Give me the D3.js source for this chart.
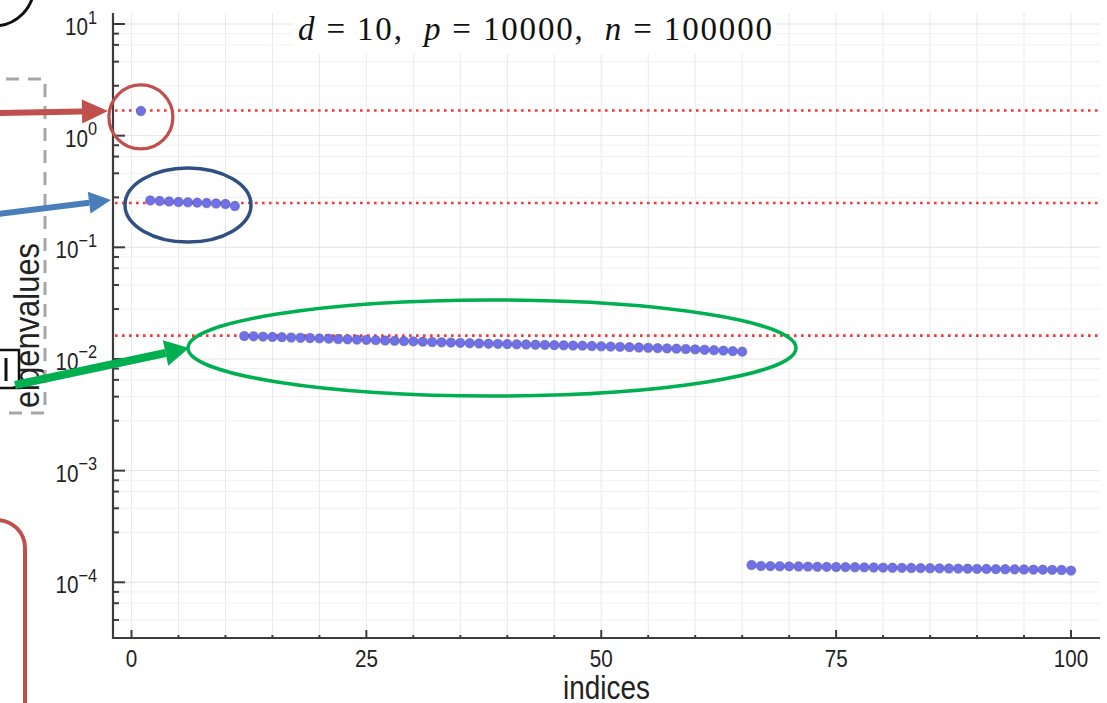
<!DOCTYPE html>
<html>
<head>
<meta charset="utf-8">
<script src="https://cdn.jsdelivr.net/npm/d3@7"></script>
<style>
  body { margin: 0; background: #fff; }
  svg { display: block; }
</style>
</head>
<body>
<div class="svg-container"></div>
<script>
const widthSVG = 1107;
const heightSVG = 703;

// eigenvalues, grouped by the spikes
const topStart = 1;
const topVals = [1.664];
const secondStart = 2;
const secondVals = [0.2629, 0.2602, 0.2575, 0.2548, 0.2532, 0.2512, 0.2496, 0.2471, 0.2445, 0.2347];
const thirdStart = 12;
const thirdVals = [
  0.01607, 0.01597, 0.01587, 0.01577, 0.01568, 0.01558, 0.01548, 0.01539, 0.01529, 0.01520,
  0.01511, 0.01501, 0.01492, 0.01483, 0.01474, 0.01465, 0.01456, 0.01447, 0.01438, 0.01429,
  0.01420, 0.01411, 0.01403, 0.01394, 0.01385, 0.01377, 0.01371, 0.01366, 0.01360, 0.01354,
  0.01349, 0.01343, 0.01338, 0.01332, 0.01327, 0.01321, 0.01316, 0.01308, 0.01300, 0.01292,
  0.01284, 0.01276, 0.01268, 0.01260, 0.01252, 0.01244, 0.01237, 0.01229, 0.01219, 0.01209,
  0.01199, 0.01189, 0.01177, 0.01163
];
const tailStart = 66;
const tailVals = [
  1.429e-4, 1.400e-4, 1.396e-4, 1.393e-4, 1.389e-4, 1.386e-4, 1.382e-4, 1.378e-4, 1.375e-4, 1.371e-4,
  1.368e-4, 1.365e-4, 1.361e-4, 1.358e-4, 1.354e-4, 1.351e-4, 1.347e-4, 1.344e-4, 1.340e-4, 1.337e-4,
  1.334e-4, 1.330e-4, 1.327e-4, 1.324e-4, 1.320e-4, 1.317e-4, 1.313e-4, 1.310e-4, 1.307e-4, 1.303e-4,
  1.300e-4, 1.297e-4, 1.293e-4, 1.290e-4, 1.273e-4
];
// theoretical levels (red dotted)
const refLevels = [1.68, 0.2496, 0.0162];

const xTicks = [0, 25, 50, 75, 100];
const xMinorStep = 5;
const yTicks = [1e1, 1e0, 1e-1, 1e-2, 1e-3, 1e-4];
const yTickExp = ['1', '0', '\u22121', '\u22122', '\u22123', '\u22124'];
const yMinorFactors = [2.8, 4.6, 6.5, 8.2];

const titleText = ['d', ' = 10,  ', 'p', ' = 10000,  ', 'n', ' = 100000'];

const plot = { left: 113, right: 1100, top: 13, bottom: 638 };
const sansFont = "'Liberation Sans', Arial, sans-serif";
const narrow = 0.86; // the reference font is a narrow sans

const svg = d3.select('.svg-container')
  .append('svg')
  .attr('width', widthSVG)
  .attr('height', heightSVG)
  .attr('viewBox', `0 0 ${widthSVG} ${heightSVG}`);

const x = d3.scaleLinear().domain([0, 100]).range([131.5, 1071]);
const y = d3.scaleLog().domain([1e-4, 10]).range([582.3, 24]);

function toPoints(start, vals) {
  return vals.map((v, i) => ({ idx: start + i, val: v }));
}
const points = [].concat(
  toPoints(topStart, topVals),
  toPoints(secondStart, secondVals),
  toPoints(thirdStart, thirdVals),
  toPoints(tailStart, tailVals)
);

// minor y values
const yMinor = [];
[1e-5, 1e-4, 1e-3, 1e-2, 1e-1, 1e0].forEach(dec => {
  yMinorFactors.forEach(f => {
    const v = dec * f;
    if (y(v) >= plot.top && y(v) <= plot.bottom) yMinor.push(v);
  });
});
const xMinor = d3.range(0, 101, xMinorStep);

// grid
const grid = svg.append('g').attr('class', 'grid');
grid.selectAll('line.vgrid')
  .data(xMinor)
  .enter().append('line')
  .attr('x1', d => x(d)).attr('x2', d => x(d))
  .attr('y1', plot.top).attr('y2', plot.bottom)
  .attr('stroke', '#e9e9e9').attr('stroke-width', 1);
grid.selectAll('line.hminor')
  .data(yMinor)
  .enter().append('line')
  .attr('x1', plot.left).attr('x2', plot.right)
  .attr('y1', d => y(d)).attr('y2', d => y(d))
  .attr('stroke', '#f1f1f1').attr('stroke-width', 1);
grid.selectAll('line.hmajor')
  .data(yTicks)
  .enter().append('line')
  .attr('x1', plot.left).attr('x2', plot.right)
  .attr('y1', d => y(d)).attr('y2', d => y(d))
  .attr('stroke', '#e4e4e4').attr('stroke-width', 1);

// reference levels
svg.append('g').selectAll('line')
  .data(refLevels)
  .enter().append('line')
  .attr('x1', plot.left + 2).attr('x2', plot.right)
  .attr('y1', d => y(d)).attr('y2', d => y(d))
  .attr('stroke', '#ff3333')
  .attr('stroke-width', 2.6)
  .attr('stroke-dasharray', '2.6 4.4');

// points
svg.append('g').selectAll('circle')
  .data(points)
  .enter().append('circle')
  .attr('cx', d => x(d.idx))
  .attr('cy', d => y(d.val))
  .attr('r', 4.6)
  .attr('fill', '#7070ea')
  .attr('stroke', '#55559e')
  .attr('stroke-opacity', 0.55)
  .attr('stroke-width', 1.2);

// axes
const axisColor = '#3c3c3c';
svg.append('line')
  .attr('x1', plot.left).attr('x2', plot.left)
  .attr('y1', plot.top).attr('y2', plot.bottom + 1)
  .attr('stroke', axisColor).attr('stroke-width', 2.2);
svg.append('line')
  .attr('x1', plot.left - 1).attr('x2', plot.right)
  .attr('y1', plot.bottom).attr('y2', plot.bottom)
  .attr('stroke', axisColor).attr('stroke-width', 2.2);

svg.append('g').selectAll('line')
  .data(yTicks)
  .enter().append('line')
  .attr('x1', plot.left).attr('x2', plot.left + 12)
  .attr('y1', d => y(d)).attr('y2', d => y(d))
  .attr('stroke', axisColor).attr('stroke-width', 2);
svg.append('g').selectAll('line')
  .data(yMinor)
  .enter().append('line')
  .attr('x1', plot.left).attr('x2', plot.left + 6)
  .attr('y1', d => y(d)).attr('y2', d => y(d))
  .attr('stroke', axisColor).attr('stroke-width', 2);

svg.append('g').selectAll('line')
  .data(xMinor)
  .enter().append('line')
  .attr('x1', d => x(d)).attr('x2', d => x(d))
  .attr('y1', plot.bottom)
  .attr('y2', d => xTicks.includes(d) ? plot.bottom - 8 : plot.bottom - 3)
  .attr('stroke', axisColor).attr('stroke-width', 2);

// tick labels (narrowed)
svg.append('g').selectAll('g')
  .data(xTicks)
  .enter().append('g')
  .attr('transform', d => `translate(${x(d)},667) scale(${narrow},1)`)
  .append('text')
  .attr('text-anchor', 'middle')
  .attr('font-family', sansFont)
  .attr('font-size', 24)
  .attr('fill', '#222')
  .text(d => d);

const yLab = svg.append('g').selectAll('g')
  .data(yTicks)
  .enter().append('g')
  .attr('transform', d => `translate(97,${y(d) + 11}) scale(${narrow},1)`)
  .append('text')
  .attr('text-anchor', 'end')
  .attr('font-family', sansFont)
  .attr('font-size', 24)
  .attr('fill', '#222');
yLab.append('tspan').text('10');
yLab.append('tspan')
  .attr('dy', -11.5)
  .attr('font-size', 19)
  .text((d, i) => yTickExp[i]);

// axis labels
svg.append('g')
  .attr('transform', `translate(${(plot.left + plot.right) / 2},699) scale(0.82,1)`)
  .append('text')
  .attr('text-anchor', 'middle')
  .attr('font-family', sansFont)
  .attr('font-size', 34)
  .attr('fill', '#222')
  .text('indices');

svg.append('g')
  .attr('transform', `translate(39,${(plot.top + plot.bottom) / 2}) rotate(-90) scale(0.86,1)`)
  .append('text')
  .attr('text-anchor', 'middle')
  .attr('font-family', sansFont)
  .attr('font-size', 36)
  .attr('fill', '#222')
  .text('eigenvalues');

// title on white box
svg.append('rect')
  .attr('x', 292).attr('y', 4)
  .attr('width', 484).attr('height', 50)
  .attr('fill', '#fff');
const title = svg.append('text')
  .attr('x', 298)
  .attr('y', 40)
  .attr('font-family', "'Liberation Serif', 'DejaVu Serif', serif")
  .attr('font-size', 33)
  .attr('fill', '#111')
  .attr('textLength', 474)
  .attr('lengthAdjust', 'spacing')
  .attr('xml:space', 'preserve');
titleText.forEach((t, i) => {
  title.append('tspan')
    .attr('font-style', i % 2 === 0 ? 'italic' : 'normal')
    .text(t);
});

// ---- annotations drawn over the figure ----
const red = '#c0504d';
const blue = '#4a7ebb';
const navy = '#2f5081';
const green = '#00b050';

function drawArrow(x1, y1, x2, y2, color, shaft, headLen, headHalf) {
  const ang = Math.atan2(y2 - y1, x2 - x1);
  const bx = x2 - headLen * Math.cos(ang);
  const by = y2 - headLen * Math.sin(ang);
  svg.append('line')
    .attr('x1', x1).attr('y1', y1).attr('x2', bx).attr('y2', by)
    .attr('stroke', color).attr('stroke-width', shaft);
  const px = -Math.sin(ang), py = Math.cos(ang);
  svg.append('path')
    .attr('d', `M${x2},${y2} L${bx + px * headHalf},${by + py * headHalf} L${bx - px * headHalf},${by - py * headHalf} Z`)
    .attr('fill', color);
}

// dashed grey box at the left edge
svg.append('rect')
  .attr('x', -60).attr('y', 79)
  .attr('width', 105).attr('height', 334)
  .attr('fill', 'none')
  .attr('stroke', '#a6a6a6')
  .attr('stroke-width', 3)
  .attr('stroke-dasharray', '13 9');

// black arc top-left
svg.append('circle')
  .attr('cx', -6).attr('cy', -14).attr('r', 40)
  .attr('fill', 'none').attr('stroke', '#111').attr('stroke-width', 3);

// black bracket
svg.append('path')
  .attr('d', 'M-2,350 H19 V388 H-2')
  .attr('fill', 'none').attr('stroke', '#111').attr('stroke-width', 2.5);
svg.append('line')
  .attr('x1', 6).attr('x2', 6).attr('y1', 358).attr('y2', 381)
  .attr('stroke', '#111').attr('stroke-width', 3);

// red rounded box bottom-left
svg.append('rect')
  .attr('x', -80).attr('y', 520)
  .attr('width', 105).attr('height', 260)
  .attr('rx', 28).attr('ry', 28)
  .attr('fill', 'none').attr('stroke', red).attr('stroke-width', 4);

// circle / ellipses around the groups
svg.append('ellipse')
  .attr('cx', x(topStart)).attr('cy', y(topVals[0]) + 6)
  .attr('rx', 32).attr('ry', 32)
  .attr('fill', 'none').attr('stroke', red).attr('stroke-width', 3.3);
svg.append('ellipse')
  .attr('cx', 188).attr('cy', 205)
  .attr('rx', 63).attr('ry', 37)
  .attr('fill', 'none').attr('stroke', navy).attr('stroke-width', 3.5);
svg.append('ellipse')
  .attr('cx', 492).attr('cy', 348)
  .attr('rx', 304).attr('ry', 48)
  .attr('fill', 'none').attr('stroke', green).attr('stroke-width', 3.5);

// arrows
drawArrow(-2, 113, 108, 111, red, 6, 26, 12);
drawArrow(-2, 214, 111, 200, blue, 6, 22, 11);
drawArrow(15, 385, 189, 348, green, 8, 24, 13);
</script>
</body>
</html>
